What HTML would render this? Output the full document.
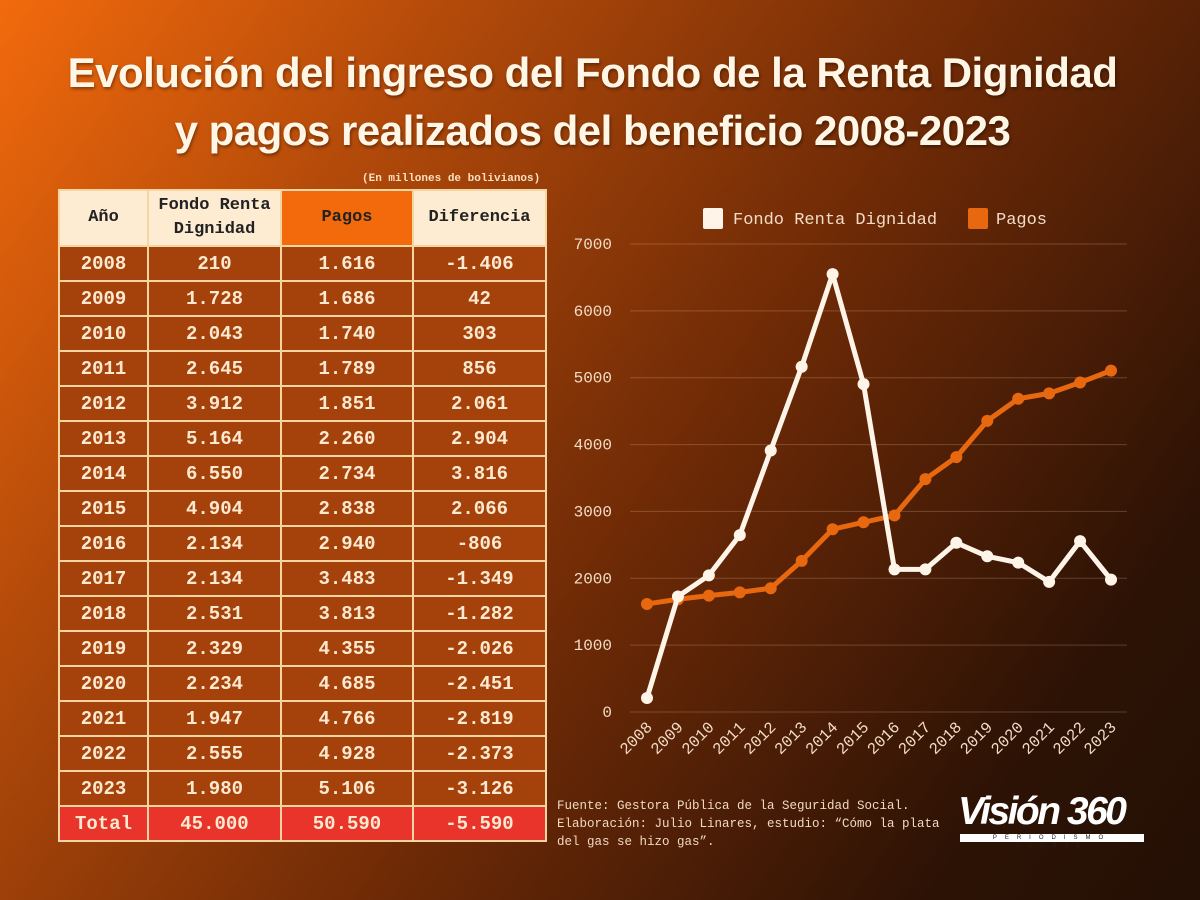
<!DOCTYPE html>
<html><head><meta charset="utf-8"><style>
body{margin:0;width:1200px;height:900px;overflow:hidden;background:linear-gradient(125deg,#f26a0c 0%,#b34a0a 25%,#6e2a06 55%,#2c1205 85%,#241005 100%);font-family:"Liberation Mono",monospace;position:relative}
.title{position:absolute;left:0;width:1185px;top:44px;text-align:center;color:#fff6e6;font-family:"Liberation Sans",sans-serif;font-weight:bold;font-size:42px;line-height:58px;letter-spacing:-0.5px;text-shadow:1px 2px 3px rgba(0,0,0,.4)}
table{position:absolute;left:58px;top:189px;border-collapse:collapse}
td{border:2px solid #f5d6a2;text-align:center;font-weight:bold;font-size:19px;color:#fde9cf;background:#a5420c;height:33px;padding:0}
th{border:2px solid #f5d6a2;background:#fdebd2;color:#222;font-size:17px;height:54px;padding:0;font-weight:bold;line-height:24px}
th.p{background:#f26a0c}
tr.tot td{background:#e8342a}
.unit{position:absolute;left:362px;top:173px;font-size:11px;font-weight:bold;color:#fbe0c0}
.src{position:absolute;left:557px;top:797px;font-size:12.5px;line-height:18px;color:#f0d9c0}
.logo{position:absolute;left:958px;top:790px;color:#fff;font-family:"Liberation Sans",sans-serif;font-weight:bold;font-style:italic;font-size:39px;letter-spacing:-2.5px}
.logo2{position:absolute;left:960px;top:834px;width:184px;height:8px;background:#fff;color:#222;font-size:6px;line-height:8px;letter-spacing:8px;text-align:center;font-family:"Liberation Sans",sans-serif}
</style></head><body>
<div class="title">Evolución del ingreso del Fondo de la Renta Dignidad<br>y pagos realizados del beneficio 2008-2023</div>
<div class="unit">(En millones de bolivianos)</div>
<table id="tbl">
<tr><th style="width:87px">Año</th><th style="width:131px">Fondo Renta<br>Dignidad</th><th class="p" style="width:130px">Pagos</th><th style="width:131px">Diferencia</th></tr>
</table>
<svg id="ch" width="1200" height="900" style="position:absolute;left:0;top:0"></svg>
<div class="src">Fuente: Gestora Pública de la Seguridad Social.<br>Elaboración: Julio Linares, estudio: “Cómo la plata<br>del gas se hizo gas”.</div>
<div class="logo">Visión 360</div>
<div class="logo2">PERIODISMO GLOBAL</div>
<script>
const years=[2008,2009,2010,2011,2012,2013,2014,2015,2016,2017,2018,2019,2020,2021,2022,2023];
const fondo=[210,1728,2043,2645,3912,5164,6550,4904,2134,2134,2531,2329,2234,1947,2555,1980];
const pagos=[1616,1686,1740,1789,1851,2260,2734,2838,2940,3483,3813,4355,4685,4766,4928,5106];
const yTicks=[0,1000,2000,3000,4000,5000,6000,7000];
const fmt=v=>{const s=Math.abs(v).toString().replace(/\B(?=(\d{3})+(?!\d))/g,'.');return (v<0?'-':'')+s;};
const tbl=document.getElementById('tbl');
years.forEach((y,i)=>{const tr=document.createElement('tr');


[y,fmt(fondo[i]),fmt(pagos[i]),fmt(fondo[i]-pagos[i])].forEach(v=>{const td=document.createElement('td');td.textContent=v;tr.appendChild(td);});tbl.appendChild(tr);});
const tr=document.createElement('tr');tr.className='tot';


['Total','45.000','50.590','-5.590'].forEach(v=>{const td=document.createElement('td');td.textContent=v;tr.appendChild(td);});tbl.appendChild(tr);
const ns='http://www.w3.org/2000/svg',svg=document.getElementById('ch');
const X=i=>647+i*(1111-647)/(years.length-1);
const Y=v=>712-v*(712-244)/7000;
function el(t,a,txt){const e=document.createElementNS(ns,t);for(const k in a)e.setAttribute(k,a[k]);if(txt!=null)e.textContent=txt;svg.appendChild(e);return e;}
yTicks.forEach(t=>{const g=el('line',{x1:630,x2:1127,y1:Y(t),y2:Y(t),stroke:'rgba(255,220,190,0.22)','stroke-width':1});


const l=el('text',{x:612,y:Y(t)+5,'text-anchor':'end','font-size':16,fill:'#f3dcc6','font-family':'Liberation Mono, monospace'},t);

});
years.forEach((y,i)=>{const l=el('text',{x:X(i)+6,y:728,'text-anchor':'end','font-size':16,fill:'#f3dcc6','font-family':'Liberation Mono, monospace',transform:`rotate(-45 ${X(i)+6} 728)`},y);

});
function series(d,c,name){const p=el('polyline',{points:d.map((v,i)=>X(i)+','+Y(v)).join(' '),fill:'none',stroke:c,'stroke-width':5,'stroke-linejoin':'round'});


d.forEach((v,i)=>{const c2=el('circle',{cx:X(i),cy:Y(v),r:6,fill:c});

});}
series(pagos,'#e8680f','pagos');
series(fondo,'#fff4e8','fondo');
const lg1=el('rect',{x:703,y:208,width:20,height:21,fill:'#fff4e8',rx:2});


const lt1=el('text',{x:733,y:224,'font-size':17,fill:'#f3dcc6','font-family':'Liberation Mono, monospace'},'Fondo Renta Dignidad');


const lg2=el('rect',{x:968,y:208,width:20,height:21,fill:'#e8680f',rx:2});


const lt2=el('text',{x:996,y:224,'font-size':17,fill:'#f3dcc6','font-family':'Liberation Mono, monospace'},'Pagos');


</script>
</body></html>
